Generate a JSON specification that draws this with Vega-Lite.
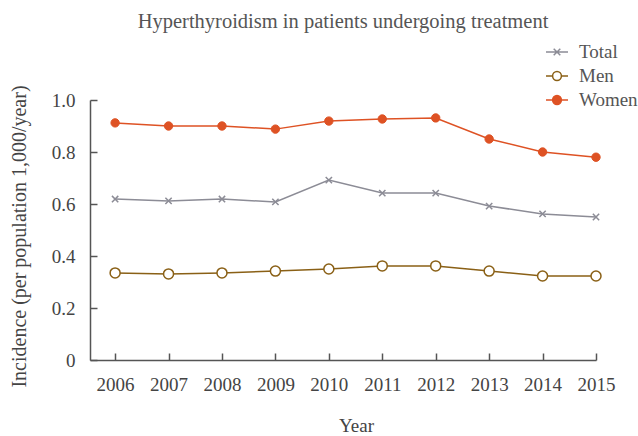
{
  "$schema": "https://vega.github.io/schema/vega-lite/v6.json",
  "width": 506,
  "height": 260,
  "autosize": "none",
  "padding": {"left": 90, "top": 100, "right": 42, "bottom": 76},
  "background": "white",
  "config": {
    "font": "Liberation Serif",
    "view": {"stroke": null},
    "axis": {"grid": false, "domainColor": "#555", "tickColor": "#555", "labelColor": "#444", "titleColor": "#444", "labelFont": "Liberation Serif", "titleFont": "Liberation Serif", "labelFontSize": 19, "titleFontSize": 19, "titleFontWeight": "normal", "domainWidth": 1.5, "tickWidth": 1.5},
    "legend": {"labelFont": "Liberation Serif", "labelFontSize": 19, "labelColor": "#555"}
  },
  "title": {"text": "Hyperthyroidism in patients undergoing treatment", "font": "Liberation Serif", "fontSize": 20.5, "fontWeight": "normal", "color": "#555", "anchor": "middle", "offset": 8},
  "data": {"values": [
    {"year": 2006, "series": "Total", "value": 0.619},
    {"year": 2007, "series": "Total", "value": 0.612},
    {"year": 2008, "series": "Total", "value": 0.619},
    {"year": 2009, "series": "Total", "value": 0.608},
    {"year": 2010, "series": "Total", "value": 0.692},
    {"year": 2011, "series": "Total", "value": 0.642},
    {"year": 2012, "series": "Total", "value": 0.642},
    {"year": 2013, "series": "Total", "value": 0.592},
    {"year": 2014, "series": "Total", "value": 0.562},
    {"year": 2015, "series": "Total", "value": 0.55},
    {"year": 2006, "series": "Men", "value": 0.335},
    {"year": 2007, "series": "Men", "value": 0.331},
    {"year": 2008, "series": "Men", "value": 0.335},
    {"year": 2009, "series": "Men", "value": 0.342},
    {"year": 2010, "series": "Men", "value": 0.35},
    {"year": 2011, "series": "Men", "value": 0.362},
    {"year": 2012, "series": "Men", "value": 0.362},
    {"year": 2013, "series": "Men", "value": 0.342},
    {"year": 2014, "series": "Men", "value": 0.323},
    {"year": 2015, "series": "Men", "value": 0.323},
    {"year": 2006, "series": "Women", "value": 0.912},
    {"year": 2007, "series": "Women", "value": 0.9},
    {"year": 2008, "series": "Women", "value": 0.9},
    {"year": 2009, "series": "Women", "value": 0.888},
    {"year": 2010, "series": "Women", "value": 0.919},
    {"year": 2011, "series": "Women", "value": 0.927},
    {"year": 2012, "series": "Women", "value": 0.931},
    {"year": 2013, "series": "Women", "value": 0.85},
    {"year": 2014, "series": "Women", "value": 0.8},
    {"year": 2015, "series": "Women", "value": 0.78}
  ]},
  "encoding": {
    "x": {"field": "year", "type": "quantitative", "scale": {"domain": [2005.53, 2015], "nice": false, "zero": false},
      "axis": {"values": [2006, 2007, 2008, 2009, 2010, 2011, 2012, 2013, 2014, 2015], "format": "d", "tickSize": -7, "labelPadding": 22, "title": "Year", "titlePadding": 22, "titleX": 266, "labelFlush": false, "labelOverlap": false}},
    "y": {"field": "value", "type": "quantitative", "scale": {"domain": [0, 1], "nice": false},
      "axis": {"values": [0, 0.2, 0.4, 0.6, 0.8, 1.0], "labelExpr": "datum.value === 0 ? '0' : format(datum.value, '.1f')", "tickSize": -7, "labelPadding": 22, "title": "Incidence (per population 1,000/year)", "titleFontSize": 20, "titlePadding": 22, "titleY": 136, "labelFlush": false}}
  },
  "layer": [
    {
      "mark": {"type": "line", "strokeWidth": 1.5},
      "encoding": {
        "color": {"field": "series", "type": "nominal", "scale": {"domain": ["Total", "Men", "Women"], "range": ["#8c8c96", "#8a6016", "#de5224"]},
          "legend": {"title": null, "orient": "none", "legendX": 455, "legendY": -60, "symbolSize": 484, "symbolStrokeWidth": 1.5, "rowPadding": 2, "labelOffset": 10,
            "encode": {"symbols": {"update": {
              "shape": {"signal": "datum.value === 'Total' ? 'M-1,0H1M-0.3,-0.3L0.3,0.3M-0.3,0.3L0.3,-0.3' : datum.value === 'Men' ? 'M-1,0H-0.4M0.4,0H1M-0.4,0A0.4,0.4 0 1 1 0.4,0A0.4,0.4 0 1 1 -0.4,0' : 'M-1,0H1M-0.4,0A0.4,0.4 0 1 1 0.4,0A0.4,0.4 0 1 1 -0.4,0'"},
              "fill": {"signal": "datum.value === 'Women' ? '#de5224' : datum.value === 'Men' ? 'white' : 'transparent'"}
            }}}}}
      }
    },
    {
      "transform": [{"filter": "datum.series === 'Total'"}],
      "mark": {"type": "point", "shape": "M-1,-1L1,1M-1,1L1,-1", "filled": false, "stroke": "#8c8c96", "strokeWidth": 1.5, "size": 40, "opacity": 1}
    },
    {
      "transform": [{"filter": "datum.series === 'Men'"}],
      "mark": {"type": "point", "shape": "circle", "filled": false, "stroke": "#8a6016", "fill": "white", "strokeWidth": 1.5, "size": 100, "opacity": 1}
    },
    {
      "transform": [{"filter": "datum.series === 'Women'"}],
      "mark": {"type": "point", "shape": "circle", "filled": true, "fill": "#de5224", "stroke": "#de5224", "strokeWidth": 1, "size": 70, "opacity": 1}
    }
  ]
}
